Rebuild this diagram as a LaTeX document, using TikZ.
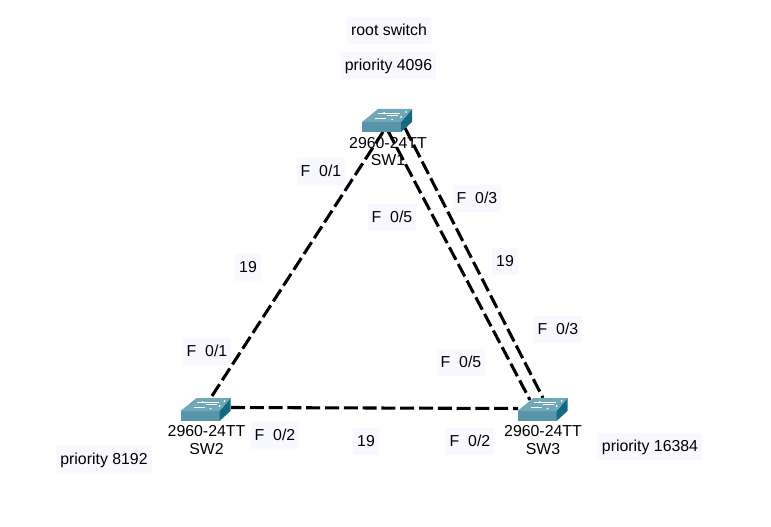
\documentclass[tikz,border=0pt]{standalone}
\usepackage{fontspec}
\setmainfont{Liberation Sans}
\tikzset{
  x=0.75pt,y=-0.75pt,
  lbl/.style={fill=lblbg,inner xsep=3pt,inner ysep=4.6pt,text height=9pt,text depth=2pt,text=black,font=\fontsize{11.9pt}{13pt}\selectfont},
  devlbl/.style={align=center,inner sep=0pt,text=black,font=\fontsize{11.9pt}{13pt}\selectfont},
  linkline/.style={draw=black,line width=2.3pt,dash pattern=on 10.5pt off 3.6pt},
  switchicon/.pic={
    \fill[swfront] (0,0) -- (39,0) -- (39,10) -- (0,10) -- cycle;
    \fill[swside] (39,0) -- (50,-13) -- (50,0) -- (39,10) -- cycle;
    \fill[swtop] (0,0) -- (16,-13) -- (50,-13) -- (39,0) -- cycle;
    \draw[white,line width=0.5pt] (13,-3.5) -- (24,-3.5) (16,-9) -- (38,-9) (25,-6.5) -- (36,-6.5);
    \fill[white] (30,-2.5) circle (1) (39,-5) circle (1) (22,-9) circle (1) (44,-10) circle (1);
  }
}
\definecolor{lblbg}{HTML}{F8F8FF}
\definecolor{swfront}{HTML}{5895A8}
\definecolor{swside}{HTML}{146A80}
\definecolor{swtop}{HTML}{6FA8B8}
\begin{document}
\begin{tikzpicture}
\useasboundingbox (0,0) rectangle (771,527);
\fill[white] (0,0) rectangle (771,527);

\node[lbl] (root) at (389,30.5) {root switch};
\node[lbl] (prio1) at (388.5,65.5) {priority 4096};
\node[lbl] (prio2) at (104,459.5) {priority 8192};
\node[lbl] (prio3) at (650,446.5) {priority 16384};
\node[lbl] (a1) at (321,171.5) {F\ \ 0/1};
\node[lbl] (a2) at (477,198.5) {F\ \ 0/3};
\node[lbl] (a3) at (392,217.5) {F\ \ 0/5};
\node[lbl] (c1) at (248,267.5) {19};
\node[lbl] (c2) at (505,261.5) {19};
\node[lbl] (a4) at (558,329.5) {F\ \ 0/3};
\node[lbl] (a5) at (207,351.5) {F\ \ 0/1};
\node[lbl] (a6) at (461,362.5) {F\ \ 0/5};
\node[lbl] (a7) at (275,435.5) {F\ \ 0/2};
\node[lbl] (a8) at (470,441.5) {F\ \ 0/2};
\node[lbl] (c3) at (366,441.5) {19};

\node[devlbl] (sw1lbl) at (388,151.5) {2960-24TT\\SW1};
\node[devlbl] (sw2lbl) at (206.5,440) {2960-24TT\\SW2};
\node[devlbl] (sw3lbl) at (543,440) {2960-24TT\\SW3};

\coordinate (sw1a) at (383,132);
\coordinate (sw1b) at (388,131);
\coordinate (sw1c) at (405,128);
\coordinate (sw2a) at (212,396);
\coordinate (sw2b) at (231,407.5);
\coordinate (sw3a) at (518,408.5);
\coordinate (sw3b) at (530,400);
\coordinate (sw3c) at (543,398);

\draw[linkline] (sw2a) -- (sw1a);
\draw[linkline] (sw1b) -- (sw3b);
\draw[linkline] (sw1c) -- (sw3c);
\draw[linkline] (sw2b) -- (sw3a);

\pic at (362,122) {switchicon};
\pic at (180.5,411) {switchicon};
\pic at (517.5,411) {switchicon};
\end{tikzpicture}
\end{document}
